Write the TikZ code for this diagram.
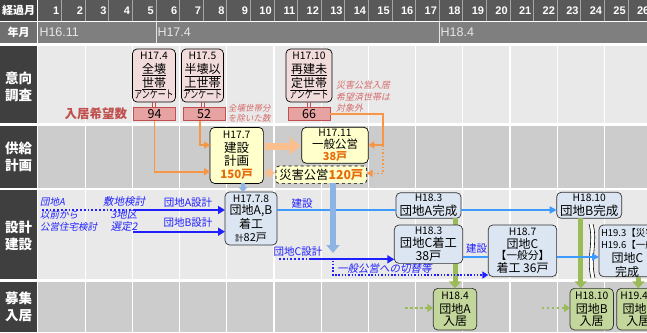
\documentclass[tikz,border=0pt]{standalone}
\usepackage{fontspec}
\usepackage{graphicx}
\setmainfont{Noto Sans CJK JP}
\newfontfamily\itjp{Noto Sans CJK JP}[FakeSlant=0.2]
\newfontfamily\arial{Liberation Sans}
\usetikzlibrary{arrows.meta}
\definecolor{hdrA}{HTML}{595959}
\definecolor{hdrB}{HTML}{7F7F7F}
\definecolor{hdrN}{HTML}{6F6F6F}
\definecolor{hdrT}{HTML}{E6E6E6}
\definecolor{labD}{HTML}{3F3F3F}
\definecolor{hsepC}{HTML}{A6A6A6}
\definecolor{rowL}{HTML}{E9E9E9}
\definecolor{rowD}{HTML}{CCCCCC}
\definecolor{pinkF}{HTML}{F2DCDB}
\definecolor{valF}{HTML}{E6A3A2}
\definecolor{valD}{HTML}{C0504D}
\definecolor{redT}{HTML}{C0504D}
\definecolor{noteR}{HTML}{D66B6B}
\definecolor{orgL}{HTML}{F79646}
\definecolor{orgT}{HTML}{E46C0A}
\definecolor{orgFat}{HTML}{FABF8F}
\definecolor{yelF}{HTML}{FFFFCC}
\definecolor{bluF}{HTML}{DCE6F2}
\definecolor{bluT}{HTML}{2020FF}
\definecolor{bluL}{HTML}{3D9BFF}
\definecolor{bluFat}{HTML}{8DB4E2}
\definecolor{grnL}{HTML}{9BBB59}
\definecolor{grnF}{HTML}{C3D69B}
\newcommand\hs[1]{{\fontsize{10.3}{9}\selectfont #1}}
\newcommand\orb[1]{{\color{orgT}\bfseries #1}}
\newcommand\anq{{\fontsize{11}{9}\selectfont\scalebox{0.72}[1]{アンケート}}}
\begin{document}
\begin{tikzpicture}[x=1pt,y=-1pt,
  every node/.style={inner sep=0pt,outer sep=0pt},
  hdr/.style={text=white,font=\bfseries\fontsize{11}{11}\selectfont},
  hnum/.style={text=white,font=\arial\bfseries\fontsize{11}{11}\selectfont,anchor=east},
  hyr/.style={text=hdrT,font=\arial\fontsize{12.5}{13}\selectfont,anchor=west},
  lbl/.style={text=white,font=\bfseries\fontsize{13.5}{17}\selectfont,align=center},
  box/.style={draw=black,line width=0.7pt,rounded corners=4.5pt,align=center},
  pinkbox/.style={box,fill=pinkF,minimum width=43pt,minimum height=53pt,font=\fontsize{12}{14}\selectfont},
  valbox/.style={draw=valD,line width=0.8pt,fill=valF,minimum width=42pt,minimum height=13pt,font=\fontsize{12.5}{13}\selectfont},
  yelbox/.style={box,fill=yelF},
  blubox/.style={box,draw=black!80,fill=bluF},
  grnbox/.style={box,draw=black!80,fill=grnF},
  rednote/.style={text=noteR,font=\itjp\fontsize{8.5}{10}\selectfont,align=left,anchor=west},
  blunote/.style={text=bluT,align=left},
  blulab/.style={text=bluT,font=\fontsize{10.5}{11}\selectfont},
  orgln/.style={draw=orgL,line width=1.6pt,-{Triangle[length=6pt,width=7pt]}},
  orgdot/.style={orgln,dash pattern=on 1.6pt off 2pt},
  fatorg/.style={draw=orgFat,line width=7pt,-{Triangle[length=11pt,width=17pt]}},
  bluarr/.style={draw=bluT,line width=1.8pt,-{Triangle[length=7pt,width=8pt]}},
  bludot/.style={draw=bluT,line width=1.8pt,dash pattern=on 1.8pt off 2pt},
  kenln/.style={draw=bluL,line width=1.5pt},
  kenarr/.style={kenln,-{Triangle[length=7pt,width=7pt]}},
  grnbar/.style={draw=grnL,line width=5pt,-{Triangle[length=7pt,width=12pt]}},
  grndot/.style={draw=grnL,line width=2pt,dash pattern=on 2.5pt off 2.5pt,-{Triangle[length=6pt,width=8pt]}}
]
\path[use as bounding box] (0,0) rectangle (647,332);
\clip (0,0) rectangle (647,332);
\fill[white] (0,0) rectangle (647,332);
% header rows
\fill[labD] (0,0) rectangle (37.2,20.5);
\fill[hdrA] (37.2,0) rectangle (647,20.5);
\foreach \k in {1,...,26}{\pgfmathsetmacro\xr{38+\k*23.6}\draw[hsepC,line width=0.8pt] (\xr,0) -- (\xr,20.5);}
\fill[hdrN] (0,22) rectangle (37.2,43);
\fill[hdrB] (37.2,22) rectangle (647,43);
\draw[hdrT,line width=0.8pt] (156,22) -- (156,43);
\draw[hdrT,line width=0.8pt] (439.2,22) -- (439.2,43);
% body rows
\fill[rowL] (37.2,46) rectangle (647,123);
\fill[rowD] (37.2,125.5) rectangle (647,187.5);
\fill[rowL] (37.2,190) rectangle (647,279);
\fill[rowD] (37.2,282) rectangle (647,332);
\fill[labD] (0,46) rectangle (37.2,123);
\fill[labD] (0,125.5) rectangle (37.2,187.5);
\fill[labD] (0,190) rectangle (37.2,279);
\fill[labD] (0,282) rectangle (37.2,332);
\draw[white,line width=1.2pt] (37.8,0) -- (37.8,332);
\foreach \b in {2,4,...,24}{\pgfmathsetmacro\xr{38+\b*23.6}\draw[white,line width=1.2pt] (\xr,46) -- (\xr,332);}
% header texts
\node[hdr] (kk) at (18.6,10.5) {経過月};
\foreach \k in {1,...,26}{\pgfmathsetmacro\xr{38+\k*23.6-2.3}\node[hnum] (n\k) at (\xr,10.8) {\k};}
\node[hdr] (ny) at (18.6,32.5) {年月};
\node[hyr] (y1) at (39.5,32.5) {H16.11};
\node[hyr] (y2) at (157.5,32.5) {H17.4};
\node[hyr] (y3) at (440.7,32.5) {H18.4};
% row labels
\node[lbl] (L1) at (18.6,86.5) {意向\\調査};
\node[lbl] (L2) at (18.6,156.7) {供給\\計画};
\node[lbl] (L3) at (18.6,236) {設計\\建設};
\node[lbl] (L4) at (18.6,306.7) {募集\\入居};
% survey boxes
\node[pinkbox] (p1) at (154,75.5) {\hs{H17.4}\\[-0.5pt]\underline{全壊}\\\underline{世帯}\\[-3pt]\anq};
\node[pinkbox,minimum width=42pt] (p2) at (202.5,75.5) {\hs{H17.5}\\[-0.5pt]\underline{半壊以}\\\underline{上世帯}\\[-3pt]\anq};
\node[pinkbox,minimum width=46pt] (p3) at (309,75.5) {\hs{H17.10}\\[-0.5pt]\underline{再建未}\\\underline{定世帯}\\[-3pt]\anq};
\node[valbox] (v1) at (154.5,114) {94};
\node[valbox] (v2) at (204,114) {52};
\node[valbox] (v3) at (309,114) {66};
\foreach \i in {1,2,3}{
  \draw[valD,line width=0.8pt] ([xshift=-1.5pt]p\i.south) -- ([xshift=-1.5pt]p\i.south |- v\i.north);
  \draw[valD,line width=0.8pt] ([xshift=1.5pt]p\i.south) -- ([xshift=1.5pt]p\i.south |- v\i.north);
}
\node[text=redT,font=\bfseries\fontsize{12.5}{13}\selectfont,anchor=east] (kibo) at (127,114) {入居希望数};
\node[rednote] (nt1) at (228,113.3) {全壊世帯分\\を除いた数};
\node[rednote,font=\itjp\fontsize{9}{11.7}\selectfont] (nt2) at (336,96.7) {災害公営入居\\希望済世帯は\\対象外};
% supply plan boxes
\node[yelbox,minimum width=53.3pt,minimum height=56pt,font=\fontsize{12.5}{13.4}\selectfont] (h177) at (236.7,155.4) {\hs{H17.7}\\[0.5pt]建設\\計画\\{\fontsize{11.5}{13}\selectfont\orb{150戸}}};
\node[yelbox,minimum width=66.6pt,minimum height=36pt,font=\fontsize{11.5}{11.7}\selectfont] (ippan) at (335,145.3) {\hs{H17.11}\\[0.7pt]一般公営\\{\fontsize{11}{11}\selectfont\orb{38戸}}};
\node[yelbox,dashed,rounded corners=3pt,minimum width=90.7pt,minimum height=17.3pt,font=\fontsize{12.3}{13}\selectfont] (saigai) at (321.3,174.7) {災害公営\orb{120戸}};
% orange connectors
\draw[orgln] (v1.south) |- (h177.west |- 0,171.7);
\draw[orgln] ([xshift=-4pt]v2.south) |- (h177.west |- 0,145);
\coordinate (oc) at (383,145);
\draw[orgln] (v3.east) -| (oc) -- (ippan.east |- oc);
\draw[orgdot] (oc) |- (saigai.east |- 0,173.3);
\draw[fatorg,shorten <=1.5pt,shorten >=1pt] (h177.east |- 0,146) -- (ippan.west |- 0,146);
\draw[draw=orgFat,line width=4pt,-{Triangle[length=7pt,width=11pt]},shorten <=1.5pt,shorten >=1pt] (h177.east |- 0,173) -- (saigai.west |- 0,173);
% design/construction
\node[blubox,minimum width=52pt,minimum height=53pt,font=\fontsize{12}{13.2}\selectfont] (ab) at (251,218.5) {\hs{H17.7.8}\\[-0.5pt]団地A,B\\着工\\{\fontsize{11}{13}\selectfont{\fontsize{8.5}{9}\selectfont 計}82戸}};
\draw[draw=bluFat,line width=4pt,-{Triangle[length=5pt,width=9pt]}] ([xshift=-8pt]ab.north |- h177.south) -- ([xshift=-8pt]ab.north);
\node[blunote,font=\itjp\fontsize{9.5}{12.5}\selectfont,anchor=west] (bn1) at (40,214.5) {団地A\\以前から\\公営住宅検討};
\node[blunote,font=\itjp\fontsize{10.5}{12.5}\selectfont,align=center] (bn2) at (124,214.5) {敷地検討\\3地区\\選定2};
\coordinate (dA0) at (42,210);
\coordinate (dA1) at (133,210);
\draw[bludot] (dA0) -- (dA1);
\draw[bluarr] (dA1) -- (ab.west |- dA1);
\coordinate (dB1) at (133,231.7);
\draw[bluarr] (dB1) -- (ab.west |- dB1);
\node[blulab] (lA) at (188,202.5) {団地A設計};
\node[blulab] (lB) at (188,223) {団地B設計};
\node[blubox,minimum width=65pt,minimum height=25.6pt,font=\fontsize{12.5}{13.5}\selectfont] (akan) at (428.5,205.5) {\hs{H18.3}\\団地A完成};
\node[blubox,minimum width=65pt,minimum height=26pt,font=\fontsize{12.5}{13.5}\selectfont] (bkan) at (589.2,205.3) {\hs{H18.10}\\団地B完成};
\node[grnbox,minimum width=43.4pt,minimum height=41.7pt,font=\fontsize{12}{12}\selectfont] (g184) at (455,309.2) {\hs{H18.4}\\[2pt]団地A\\入居};
\node[grnbox,minimum width=43.4pt,minimum height=41.7pt,font=\fontsize{12}{12}\selectfont] (g1810) at (591.7,309.2) {\hs{H18.10}\\[2pt]団地B\\入居};
\node[grnbox,minimum width=43.4pt,minimum height=41.7pt,font=\fontsize{12}{12}\selectfont] (g194) at (638.4,309.2) {\hs{H19.4.\phantom{1}}\\[2pt]団地C\\入居};
\draw[grnbar] (g184.north |- akan.south) -- (g184.north);
\draw[grnbar] ([xshift=-8.4pt]bkan.south) -- ([xshift=-8.4pt]bkan.south |- g1810.north);
\node[blubox,minimum width=68.4pt,minimum height=38.3pt,font=\fontsize{12.3}{12.3}\selectfont] (cchak) at (428.5,244.2) {\hs{H18.3}\\[1pt]団地C着工\\38戸};
\node[blubox,minimum width=68.4pt,minimum height=51.7pt,font=\fontsize{12}{13.2}\selectfont] (h187) at (522.5,250.8) {\hs{H18.7}\\[-0.5pt]団地C\\[-2pt]{\fontsize{10.8}{11}\selectfont【一般分】}\\着工 36戸};
\node[blubox,minimum width=57pt,minimum height=51.7pt] (ckan) at (627.5,250.8) {};
\node[anchor=west,font=\fontsize{9.5}{9}\selectfont] (ck1) at (601,233.3) {H19.3【災害};
\node[anchor=west,font=\fontsize{9.5}{9}\selectfont] (ck2) at (601,245) {H19.6【一般};
\node[font=\fontsize{12}{12}\selectfont] (ck3) at (627.5,258.3) {団地C};
\node[font=\fontsize{12}{12}\selectfont] (ck4) at (627,271.7) {完成};
\draw[grnbar] (g194.north |- ckan.south) -- (g194.north);
% construction lines
\draw[kenln] (ab.east |- 0,210) -- (akan.west |- 0,210);
\draw[kenarr] (akan.east |- 0,210) -- (bkan.west |- 0,210);
\node[blulab] (ken1) at (302,203.5) {建設};
\draw[kenln] (cchak.east |- 0,257) -- (h187.west |- 0,257);
\node[blulab] (ken2) at (476.5,249) {建設};
% break mark
\fill[white] (589,224) .. controls (594,241) and (586,259) .. (591,278) -- (595,278) .. controls (590,259) and (598,241) .. (593,224) -- cycle;
\draw[black,line width=0.6pt] (589,224) .. controls (594,241) and (586,259) .. (591,278);
\draw[black,line width=0.6pt] (593,224) .. controls (598,241) and (590,259) .. (595,278);
\draw[kenarr] (h187.east |- 0,257) -- (ckan.west |- 0,257);
% C design
\node[blulab] (lC) at (298,251.5) {団地C設計};
\coordinate (cD0) at (279,259.3);
\coordinate (cD1) at (310,259.3);
\draw[bludot] (cD0) -- (cD1);
\draw[bluarr] (cD1) -- (cchak.west |- cD1);
\coordinate (cK) at (333,260.5);
\draw[draw=bluT,line width=1.5pt,dash pattern=on 1.5pt off 1.8pt,-{Triangle[length=6pt,width=7pt]}] (cK) |- (h187.west |- 0,275);
\node[text=bluT,font=\itjp\fontsize{10.5}{11}\selectfont,anchor=west] (kirikae) at (337,268.5) {一般公営への切替等};
% big blue arrow
\coordinate (bb) at (333,253);
\draw[draw=bluFat,line width=6.5pt,-{Triangle[length=8pt,width=13pt]}] (saigai.south -| bb) -- (bb);
% green dotted
\coordinate (gd1) at (405,308);
\draw[grndot] (gd1) -- (g184.west |- gd1);
\coordinate (gd2) at (541.7,308);
\draw[grndot] (gd2) -- (g1810.west |- gd2);
\end{tikzpicture}
\end{document}
